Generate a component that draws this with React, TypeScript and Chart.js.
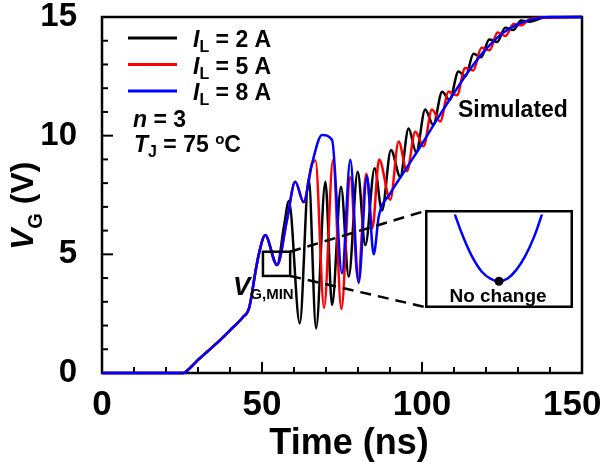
import React, { useEffect, useRef } from "react";
import { Chart, registerables } from "chart.js";

Chart.register(...registerables);

const FONT = '"Liberation Sans", Arial, Helvetica, sans-serif';

// ---- Data (time in ns, gate voltage in V) ----
const timeBlue = [0, 25.5, 27, 30, 35, 40, 44, 46, 48, 49, 51, 54.7, 57.8, 60.4, 63, 65.6, 68.75, 71.9, 75, 77.6, 80.2, 82.8, 84.9, 86.5, 90, 95, 100, 105, 110, 115, 120, 125, 130, 135, 140, 150];
const vgBlue = [0, 0, 0.15, 0.55, 1.15, 1.8, 2.35, 2.75, 4.3, 5.0, 5.8, 4.55, 6.45, 8.06, 7.2, 8.8, 10.03, 9.82, 4.2, 8.98, 3.8, 8.3, 5.0, 6.6, 7.55, 8.6, 9.65, 10.75, 11.8, 12.8, 13.65, 14.3, 14.7, 14.92, 15.0, 15.0];

const timeRed = [0, 25.5, 27, 30, 35, 40, 44, 46, 48, 49, 51, 54.7, 57.8, 60.4, 63, 65.6, 66.7, 69.4, 72.2, 74.8, 77.6, 80.0, 82.6, 84.5, 86.6, 90.1, 92.7, 95.3, 97.9, 100.5, 103.1, 105.7, 108.3, 110.9, 113.5, 116, 118.6, 121.1, 123.6, 126.1, 128.6, 131, 133.5, 138, 150];
const vgRed = [0, 0, 0.15, 0.55, 1.15, 1.8, 2.35, 2.75, 4.3, 5.0, 5.8, 4.55, 6.45, 8.06, 7.2, 8.8, 8.95, 2.75, 8.98, 2.7, 8.25, 3.95, 8.4, 6.1, 9.0, 7.3, 9.75, 8.5, 10.17, 9.55, 11.1, 10.6, 11.85, 11.7, 12.85, 12.75, 13.7, 13.6, 14.35, 14.2, 14.7, 14.65, 14.9, 14.97, 15.0];

const timeBlack = [0, 25.5, 27, 30, 35, 40, 44, 46, 48, 49, 51, 54.7, 56.9, 58.4, 61.8, 64.6, 66.9, 69.8, 71.9, 74.7, 77.1, 79.9, 82.3, 85.2, 87.5, 90.3, 93.2, 95.8, 98.2, 101, 103.5, 106.3, 108.6, 111.4, 113.6, 116.1, 118.5, 121, 123.5, 126, 128.5, 131, 133.5, 138, 150];
const vgBlack = [0, 0, 0.15, 0.55, 1.15, 1.8, 2.35, 2.75, 4.3, 5.0, 5.8, 4.55, 6.2, 7.25, 2.09, 8.2, 1.88, 8.06, 2.87, 7.85, 4.06, 8.48, 5.39, 8.63, 6.85, 9.4, 8.27, 10.3, 9.3, 11.1, 10.45, 11.85, 11.5, 12.7, 12.5, 13.45, 13.3, 14.05, 13.95, 14.55, 14.45, 14.85, 14.8, 14.97, 15.0];

// Inset (magnified V_G,MIN region)
const insetTime = [51.6, 52.0, 52.5, 53.0, 53.5, 54.0, 54.5, 55.0, 55.5, 56.0, 56.5, 57.0, 57.4];
const insetVg = [5.44, 5.18, 4.92, 4.71, 4.56, 4.48, 4.45, 4.48, 4.58, 4.73, 4.94, 5.22, 5.48];
const insetDotTime = [54.5];
const insetDotVg = [4.45];

// Zoom box on main plot (data coords)
const zoomBoxTime = [50.3, 58.8];
const zoomBoxVg = [4.09, 5.11];

const xMajorTicks = [0, 50, 100, 150];
const yMajorTicks = [0, 5, 10, 15];
const legendCurrents = ["2 A", "5 A", "8 A"];
const legendColors = ["#000000", "#ff0000", "#0000ff"];

const INSET = { left: 425, top: 210, width: 148, height: 98 };

type Part = { t: string; size: number; italic?: boolean; dy?: number };
function rich(ctx: CanvasRenderingContext2D, x: number, y: number, parts: Part[]) {
  let cx = x;
  for (const p of parts) {
    ctx.font = `${p.italic ? "italic " : ""}bold ${p.size}px ${FONT}`;
    ctx.fillText(p.t, cx, y + (p.dy || 0));
    cx += ctx.measureText(p.t).width;
  }
}

const mainDecor = {
  id: "mainDecor",
  beforeDatasetsDraw(chart: any) {
    const { ctx, chartArea: a, scales } = chart;
    const xs = scales.x;
    const ys = scales.y;
    ctx.save();
    ctx.strokeStyle = "#000";
    ctx.lineWidth = 2;
    for (let v = 0; v <= 15; v += 1) {
      const p = ys.getPixelForValue(v);
      const len = v % 5 === 0 ? 11 : 6;
      ctx.beginPath();
      ctx.moveTo(a.left, p);
      ctx.lineTo(a.left + len, p);
      ctx.stroke();
    }
    for (let t = 0; t <= 150; t += 10) {
      const p = xs.getPixelForValue(t);
      const len = t % 50 === 0 ? 11 : 6;
      ctx.beginPath();
      ctx.moveTo(p, a.bottom);
      ctx.lineTo(p, a.bottom - len);
      ctx.stroke();
    }
    ctx.lineWidth = 2.5;
    ctx.strokeRect(a.left, a.top, a.right - a.left, a.bottom - a.top);
    ctx.restore();
  },
  afterDatasetsDraw(chart: any) {
    const { ctx, scales } = chart;
    const xs = scales.x;
    const ys = scales.y;
    ctx.save();
    ctx.fillStyle = "#000";
    ctx.textAlign = "left";
    ctx.textBaseline = "alphabetic";

    // Legend
    for (let i = 0; i < legendCurrents.length; i++) {
      const y = 38 + i * 26.5;
      ctx.strokeStyle = legendColors[i];
      ctx.lineWidth = 3;
      ctx.beginPath();
      ctx.moveTo(128, y);
      ctx.lineTo(177, y);
      ctx.stroke();
      ctx.fillStyle = "#000";
      rich(ctx, 193, y + 9, [
        { t: "I", size: 23, italic: true },
        { t: "L", size: 16, dy: 5 },
        { t: " = " + legendCurrents[i], size: 23 },
      ]);
    }
    rich(ctx, 133, 127, [
      { t: "n", size: 23, italic: true },
      { t: " = 3", size: 23 },
    ]);
    rich(ctx, 134, 152, [
      { t: "T", size: 23, italic: true },
      { t: "J", size: 16, dy: 5 },
      { t: " = 75 ", size: 23 },
      { t: "o", size: 15, dy: -8 },
      { t: "C", size: 23 },
    ]);
    ctx.font = `bold 23px ${FONT}`;
    ctx.fillText("Simulated", 458, 117);

    // Zoom box
    const bx0 = xs.getPixelForValue(zoomBoxTime[0]);
    const bx1 = xs.getPixelForValue(zoomBoxTime[1]);
    const by0 = ys.getPixelForValue(zoomBoxVg[1]);
    const by1 = ys.getPixelForValue(zoomBoxVg[0]);
    ctx.strokeStyle = "#000";
    ctx.lineWidth = 2.5;
    ctx.strokeRect(bx0, by0, bx1 - bx0, by1 - by0);
    ctx.setLineDash([11, 7]);
    ctx.beginPath();
    ctx.moveTo(bx1, by0);
    ctx.lineTo(INSET.left, INSET.top + 1);
    ctx.moveTo(bx1, by1);
    ctx.lineTo(INSET.left, INSET.top + INSET.height - 1);
    ctx.stroke();
    ctx.setLineDash([]);

    rich(ctx, 233, 295, [
      { t: "V", size: 26, italic: true },
      { t: "G,MIN", size: 15, dy: 4 },
    ]);

    // Axis titles
    ctx.textAlign = "center";
    ctx.font = `bold 36px ${FONT}`;
    ctx.fillText("Time (ns)", 349, 454);
    ctx.textAlign = "left";
    ctx.translate(33, 250);
    ctx.rotate(-Math.PI / 2);
    rich(ctx, 0, 0, [
      { t: "V", size: 32, italic: true },
      { t: "G", size: 20, dy: 9 },
      { t: " (V)", size: 32 },
    ]);
    ctx.restore();
  },
};

const insetDecor = {
  id: "insetDecor",
  beforeDraw(chart: any) {
    const { ctx, width, height } = chart;
    ctx.save();
    ctx.fillStyle = "#fff";
    ctx.fillRect(0, 0, width, height);
    ctx.restore();
  },
  afterDatasetsDraw(chart: any) {
    const { ctx, width, height } = chart;
    ctx.save();
    ctx.strokeStyle = "#000";
    ctx.lineWidth = 2.5;
    ctx.strokeRect(1.25, 1.25, width - 2.5, height - 2.5);
    ctx.fillStyle = "#000";
    ctx.textAlign = "center";
    ctx.textBaseline = "alphabetic";
    ctx.font = `bold 19px ${FONT}`;
    ctx.fillText("No change", width / 2 - 1, 92);
    ctx.restore();
  },
};

const toXY = (t: number[], v: number[]) => t.map((x, i) => ({ x, y: v[i] }));

export default function App() {
  const mainRef = useRef<HTMLCanvasElement>(null);
  const insetRef = useRef<HTMLCanvasElement>(null);

  useEffect(() => {
    const xTickFont = { family: FONT, size: 35, weight: "bold" as const };
    const yTickFont = { family: FONT, size: 33, weight: "bold" as const };
    const lineDs = (label: string, t: number[], v: number[], color: string) => ({
      label,
      data: toXY(t, v),
      borderColor: color,
      backgroundColor: color,
      borderWidth: 2.5,
      pointRadius: 0,
      cubicInterpolationMode: "monotone" as const,
      clip: false as const,
    });
    const main = new Chart(mainRef.current!, {
      type: "line",
      data: {
        datasets: [
          lineDs("IL = 8 A", timeBlue, vgBlue, legendColors[2]),
          lineDs("IL = 5 A", timeRed, vgRed, legendColors[1]),
          lineDs("IL = 2 A", timeBlack, vgBlack, legendColors[0]),
        ],
      },
      options: {
        animation: false,
        responsive: false,
        devicePixelRatio: 1,
        events: [],
        layout: { padding: { left: 0, right: 22, top: 17, bottom: 0 } },
        plugins: { legend: { display: false }, tooltip: { enabled: false } },
        scales: {
          x: {
            type: "linear",
            min: 0,
            max: 150,
            grid: { display: false },
            border: { display: false },
            ticks: {
              font: xTickFont,
              color: "#000",
              padding: 3,
              maxRotation: 0,
              autoSkip: false,
              // keep the last label inside the canvas, as in the reference
              callback: (value: any, index: number, ticks: any[]) =>
                index === ticks.length - 1 ? String(value) + "  " : String(value),
            },
            afterBuildTicks: (s: any) => {
              s.ticks = xMajorTicks.map((value) => ({ value }));
            },
            afterFit: (s: any) => {
              s.height = 95;
              s.paddingLeft = 0;
              s.paddingRight = 0;
            },
          },
          y: {
            type: "linear",
            min: 0,
            max: 15,
            grid: { display: false },
            border: { display: false },
            ticks: { font: yTickFont, color: "#000", padding: 17, autoSkip: false },
            afterBuildTicks: (s: any) => {
              s.ticks = yMajorTicks.map((value) => ({ value }));
            },
            afterFit: (s: any) => {
              s.width = 102;
              s.paddingTop = 0;
              s.paddingBottom = 0;
            },
          },
        },
      },
      plugins: [mainDecor],
    });

    const inset = new Chart(insetRef.current!, {
      type: "line",
      data: {
        datasets: [
          {
            label: "dot",
            data: toXY(insetDotTime, insetDotVg),
            showLine: false,
            pointRadius: 4.5,
            pointBackgroundColor: "#000",
            pointBorderColor: "#000",
            borderWidth: 0,
          },
          {
            label: "VG",
            data: toXY(insetTime, insetVg),
            borderColor: "#0000ff",
            borderWidth: 2.5,
            pointRadius: 0,
            tension: 0.4,
          },
        ],
      },
      options: {
        animation: false,
        responsive: false,
        devicePixelRatio: 1,
        events: [],
        layout: { padding: 0 },
        plugins: { legend: { display: false }, tooltip: { enabled: false } },
        scales: {
          x: { type: "linear", display: false, min: 50.5, max: 58.5 },
          y: { type: "linear", display: false, min: 4.2, max: 5.2 },
        },
      },
      plugins: [insetDecor],
    });

    return () => {
      main.destroy();
      inset.destroy();
    };
  }, []);

  return (
    <div style={{ position: "fixed", left: 0, top: 0, width: 604, height: 468, background: "#fff" }}>
      <canvas ref={mainRef} width={604} height={468} style={{ position: "absolute", left: 0, top: 0, display: "block" }} />
      <canvas
        ref={insetRef}
        width={INSET.width}
        height={INSET.height}
        style={{ position: "absolute", left: INSET.left, top: INSET.top, display: "block" }}
      />
    </div>
  );
}
